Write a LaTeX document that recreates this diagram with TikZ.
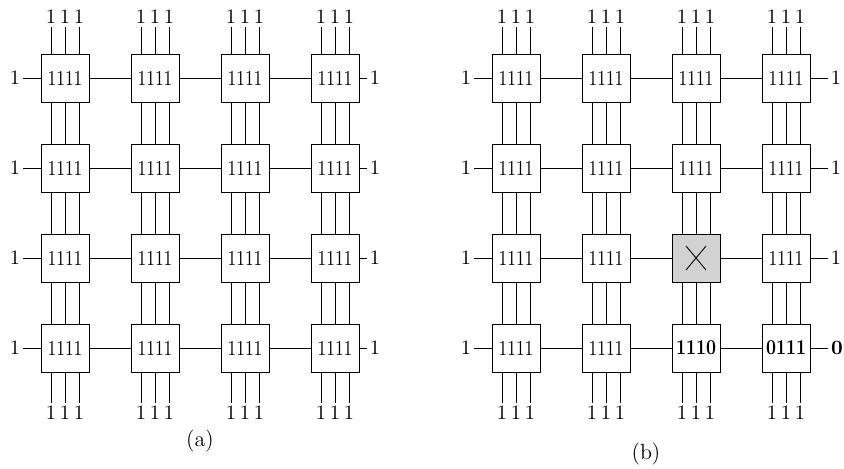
\documentclass[tikz,border=0pt]{standalone}
\usepackage{graphicx}
\newcommand\condtxt[1]{\scalebox{0.82}[1]{#1}}
\begin{document}
\begin{tikzpicture}[x=0.5pt,y=-0.5pt,
  box/.style={draw, line width=0.45pt, minimum size=24pt, inner sep=0pt, font=\fontsize{10.6}{12}\selectfont},
  lab/.style={inner sep=1.2pt, font=\fontsize{10.2}{12}\selectfont},
  wire/.style={line width=0.45pt},
  captxt/.style={font=\fontsize{11}{13}\selectfont}]
\useasboundingbox (0,0) rectangle (844,468);
% panel (a) boxes
\foreach \r in {1,...,4}{
  \foreach \c in {1,...,4}{
    \node[box] (a\r\c) at ({65+90*(\c-1)},{78+90*(\r-1)}) {\condtxt{1111}};
  }
}
% panel (b) boxes
\foreach \r in {1,...,4}{
  \foreach \c in {1,...,4}{
    \pgfmathtruncatemacro{\k}{10*\r+\c}
    \ifnum\k=33
      \node[box, fill=gray!35] (b\r\c) at ({516+90*(\c-1)},{78+90*(\r-1)}) {};
    \else\ifnum\k=43
      \node[box] (b\r\c) at ({516+90*(\c-1)},{78+90*(\r-1)}) {\condtxt{\bfseries 1110}};
    \else\ifnum\k=44
      \node[box] (b\r\c) at ({516+90*(\c-1)},{78+90*(\r-1)}) {\condtxt{\bfseries 0111}};
    \else
      \node[box] (b\r\c) at ({516+90*(\c-1)},{78+90*(\r-1)}) {\condtxt{1111}};
    \fi\fi\fi
  }
}
\draw[wire] ([shift={(-10,-12)}]b33.center) -- ([shift={(10,12)}]b33.center);
\draw[wire] ([shift={(-10,12)}]b33.center) -- ([shift={(10,-12)}]b33.center);
% wires for both panels
\foreach \p/\ox in {a/65,b/516}{
  % vertical wires between rows
  \foreach \r in {1,2,3}{
    \pgfmathtruncatemacro{\rr}{\r+1}
    \foreach \c in {1,...,4}{
      \foreach \o in {-7,0,7}{
        \draw[wire] ([xshift=\o pt]\p\r\c.south) -- ([xshift=\o pt]\p\rr\c.north);
      }
    }
  }
  % horizontal wires between columns
  \foreach \r in {1,...,4}{
    \foreach \c in {1,2,3}{
      \pgfmathtruncatemacro{\cc}{\c+1}
      \draw[wire] (\p\r\c.east) -- (\p\r\cc.west);
    }
  }
  % top and bottom labels
  \foreach \c in {1,...,4}{
    \foreach \i/\o in {1/-7,2/0,3/7}{
      \node[lab] (t\p\c\i) at ({\ox+90*(\c-1)+2*\o},17) {1};
      \draw[wire] (t\p\c\i.south) -- ([xshift=\o pt]\p1\c.north);
      \node[lab] (u\p\c\i) at ({\ox+90*(\c-1)+2*\o},413) {1};
      \draw[wire] ([xshift=\o pt]\p4\c.south) -- (u\p\c\i.north);
    }
  }
  % left labels
  \foreach \r in {1,...,4}{
    \node[lab] (l\p\r) at ({\ox-50},{78+90*(\r-1)}) {1};
    \draw[wire] (l\p\r.east) -- (\p\r1.west);
  }
}
% right labels
\foreach \r in {1,2,3,4}{
  \node[lab] (rta\r) at (375,{78+90*(\r-1)}) {1};
  \draw[wire] (a\r4.east) -- (rta\r.west);
}
\foreach \r/\t in {1/1,2/1,3/1}{
  \node[lab] (rtb\r) at (836,{78+90*(\r-1)}) {\t};
  \draw[wire] (b\r4.east) -- (rtb\r.west);
}
\node[lab] (rtb4) at (837,348) {\bfseries 0};
\draw[wire] (b44.east) -- (rtb4.west);
% captions
\node[captxt] (capa) at (200,441) {(a)};
\node[captxt] (capb) at (646,454) {(b)};
\end{tikzpicture}
\end{document}
